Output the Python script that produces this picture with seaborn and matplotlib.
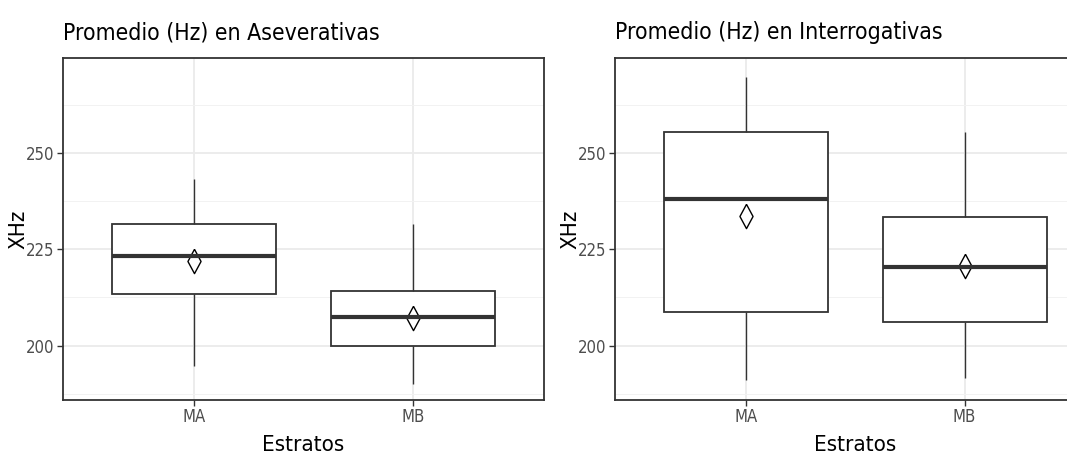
import numpy as np
import pandas as pd
import matplotlib
matplotlib.use("Agg")
import matplotlib.pyplot as plt
from matplotlib import font_manager as fm
import seaborn as sns

# categories and values
estratos = ["MA", "MB"]
# five-number summary per box: lower whisker, Q1, median, Q3, upper whisker
asev_ma = [194.7, 213.3, 223.3, 231.7, 243.3]
asev_mb = [190.1, 200.0, 207.5, 214.3, 231.5]
inter_ma = [191.0, 208.7, 238.2, 255.4, 269.7]
inter_mb = [191.7, 206.1, 220.3, 233.3, 255.6]
asev_means = [222.0, 207.3]
inter_means = [233.7, 220.6]

titles = ["Promedio (Hz) en Aseverativas", "Promedio (Hz) en Interrogativas"]
y_ticks = [200, 225, 250]
y_minor = [187.5, 212.5, 237.5, 262.5]

sns.set_theme(style="white")

# the reference text is narrow; use a condensed sans if one is installed
condensed = None
for f in fm.fontManager.ttflist:
    if "Mono" in f.name or "Serif" in f.name:
        continue
    if f.stretch in ("condensed", "semi-condensed") or "Narrow" in f.name or "Condensed" in f.name:
        condensed = f
        break
if condensed is not None:
    plt.rcParams['font.family'] = [condensed.name, 'Liberation Sans', 'DejaVu Sans']
    plt.rcParams['font.stretch'] = condensed.stretch
    title_size, label_size, tick_size = 16.5, 16, 12
else:
    plt.rcParams['font.family'] = ['Liberation Sans', 'DejaVu Sans']
    title_size, label_size, tick_size = 14, 15, 11

def long_frame(ma, mb):
    return pd.DataFrame({
        "Estratos": [estratos[0]] * len(ma) + [estratos[1]] * len(mb),
        "XHz": ma + mb,
    })

panels = [
    (long_frame(asev_ma, asev_mb), asev_means, titles[0]),
    (long_frame(inter_ma, inter_mb), inter_means, titles[1]),
]

fig = plt.figure(figsize=(10.67, 4.57), dpi=100)
axes = [fig.add_axes([0.059, 0.125, 0.451, 0.747]),
        fig.add_axes([0.576, 0.125, 0.451, 0.747])]

diamond = [(0, 1), (0.54, 0), (0, -1), (-0.54, 0), (0, 1)]

for ax, (df, means, title) in zip(axes, panels):
    sns.boxplot(data=df, x="Estratos", y="XHz", ax=ax, width=0.75,
                color="white", linecolor="#333333", linewidth=1.3,
                showcaps=False, whis=1.5,
                medianprops=dict(linewidth=3, color="#333333"),
                whiskerprops=dict(linewidth=1.0))
    sns.pointplot(x=estratos, y=means, ax=ax, color="black",
                  marker=diamond, markersize=17.5, markerfacecolor="none",
                  markeredgewidth=1.0, linestyle="none", errorbar=None)
    ax.set_xlim(-0.6, 1.6)
    ax.set_ylim(185.9, 274.6)
    ax.set_yticks(y_ticks)
    ax.set_yticks(y_minor, minor=True)
    ax.set_axisbelow(True)
    ax.grid(True, which="major", color="#EBEBEB", linewidth=1.3)
    ax.grid(True, which="minor", axis="y", color="#F2F2F2", linewidth=0.7)
    for s in ax.spines.values():
        s.set_color("#333333")
        s.set_linewidth(1.3)
    ax.tick_params(axis="both", which="major", length=4, width=1, color="#333333",
                   labelsize=tick_size, labelcolor="#4D4D4D", pad=2, left=True, bottom=True)
    ax.tick_params(axis="y", which="minor", length=0)
    ax.set_xlabel("Estratos", fontsize=label_size, color="black", labelpad=6)
    ax.set_ylabel("XHz", fontsize=label_size, color="black")
    ax.yaxis.set_label_coords(-0.072, 0.5)
    ax.set_title(title, loc="left", fontsize=title_size, color="black", pad=14)

fig.savefig("out.png", dpi=100)
